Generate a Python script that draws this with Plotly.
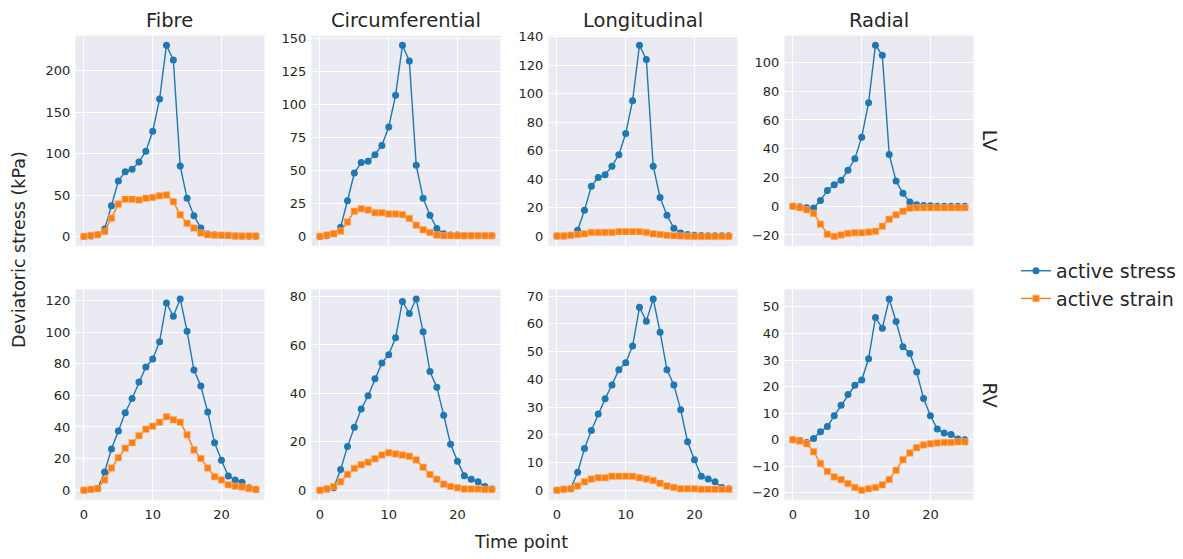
import plotly.graph_objects as go
from plotly.subplots import make_subplots

time = list(range(26))
directions = ["Fibre", "Circumferential", "Longitudinal", "Radial"]
chambers = ["LV", "RV"]

# LV active stress
lv_fibre_stress = [0, 0.5, 2, 9, 37, 67, 78, 81, 90, 103, 127, 166, 231, 213, 85, 46, 25, 10, 3, 2, 1.5, 1, 0.5, 0.3, 0.2, 0.1]
lv_circ_stress = [0, 0.5, 2, 7, 27, 48, 56, 57, 62, 69, 83, 107, 145, 133, 54, 29, 16, 6, 2, 1, 1, 0.5, 0.5, 0.5, 0.5, 0.5]
lv_long_stress = [0, 0, 0.5, 4, 18, 35, 41, 43, 49, 57, 72, 95, 134, 124, 49, 27, 14.5, 5.5, 2, 1, 0.5, 0.3, 0.2, 0.1, 0.1, 0.1]
lv_rad_stress = [0, -0.3, -1, -1.2, 4, 11, 15, 18, 25, 33, 48, 72, 112, 105, 36, 17.5, 9, 3, 1, 0.5, 0.3, 0, 0, 0, 0, 0]
# LV active strain
lv_fibre_strain = [0, 1, 2, 6, 22, 39, 45, 45, 44, 46, 47, 49, 50, 42, 26, 16, 10, 4, 2, 1.5, 1.5, 1, 0.5, 0.5, 0.5, 0.5]
lv_circ_strain = [0, 1, 2, 4, 11, 19, 21, 20, 18, 18, 17, 17, 16.5, 13.5, 8.5, 5, 3, 1, 0.5, 0.5, 0.5, 0.5, 0.5, 0.5, 0.5, 0.5]
lv_long_strain = [0, 0, 0.5, 1, 1.5, 2.5, 2.5, 2.5, 2.5, 3, 3, 3, 3, 2.5, 1.5, 1, 0.5, 0.2, 0, -0.2, -0.3, -0.3, -0.3, -0.3, -0.3, -0.3]
lv_rad_strain = [0, -1, -2.5, -5, -12.5, -19.5, -21, -20, -19, -18.5, -18.5, -18, -17.5, -14, -9, -6, -3.5, -1.5, -1, -1, -1, -1, -1, -1, -1, -1]
# RV active stress
rv_fibre_stress = [0, 0.5, 1, 11.5, 26, 37.5, 49, 58, 68.5, 78, 83, 94, 118.5, 110, 121, 100.5, 76, 66, 49.5, 30, 19, 9, 6.5, 5, 1.5, 0.5]
rv_circ_stress = [0, 0.5, 1, 8.5, 18, 26, 33.5, 39, 46, 52.5, 56, 63, 78, 73, 79, 65.5, 49, 42.5, 31, 19, 12, 6, 4.5, 3.5, 1.5, 0.5]
rv_long_stress = [0, 0.3, 0.5, 6.5, 15, 21.5, 27.5, 33, 38, 43.5, 46, 52, 66, 61, 69, 57, 43.5, 38, 29, 17.5, 11, 5, 4, 3, 1, 0.5]
rv_rad_stress = [0, -0.3, -1, 0.5, 3, 5, 9, 13, 17, 20.5, 22.5, 30.5, 46, 42, 53, 44.5, 35, 32.5, 25.5, 15.5, 9, 4, 2.5, 2, 0.3, 0]
# RV active strain
rv_fibre_strain = [0, 0.5, 1, 6.5, 14, 20.5, 26.5, 30, 34.5, 38.5, 40.5, 43, 46.5, 44.5, 43, 35, 25.5, 20, 14, 8.5, 6.5, 3.5, 2.5, 2, 1, 0.5]
rv_circ_strain = [0, 0.5, 1.5, 3.5, 6.5, 9, 10.5, 11.5, 13, 14.5, 15.5, 15, 14.5, 14, 12.5, 9.5, 6.5, 4.5, 2.5, 1.5, 1, 0.5, 0.5, 0.5, 0.3, 0.3]
rv_long_strain = [0, 0.3, 0.5, 1.5, 3, 4, 4.5, 4.5, 5, 5, 5, 5, 4.5, 4, 3.5, 2.5, 1.5, 1, 0.5, 0.5, 0.5, 0.3, 0.3, 0.3, 0.3, 0.3]
rv_rad_strain = [0, -0.5, -1.5, -4.5, -9, -12, -14, -15, -16.5, -18, -19, -18.5, -18, -17, -15, -11.5, -7.5, -5, -3, -2, -1.5, -1.2, -1, -1, -0.8, -0.8]

ytick_steps = [[50, 25, 20, 20], [20, 20, 10, 10]]

stress = [[lv_fibre_stress, lv_circ_stress, lv_long_stress, lv_rad_stress],
          [rv_fibre_stress, rv_circ_stress, rv_long_stress, rv_rad_stress]]
strain = [[lv_fibre_strain, lv_circ_strain, lv_long_strain, lv_rad_strain],
          [rv_fibre_strain, rv_circ_strain, rv_long_strain, rv_rad_strain]]

BLUE = "#1f77b4"
ORANGE = "#ff7f0e"
TXT = "#262626"
FONT = "DejaVu Sans"
W, H = 1183, 559

fig = make_subplots(rows=2, cols=4)

col_left = [75.4, 311.4, 548.4, 784.4]
col_w = 189
row_top = [30, 287]
row_h = 213

for r in range(2):
    for c in range(4):
        first = (r == 0 and c == 0)
        fig.add_trace(go.Scatter(x=time, y=stress[r][c], mode="lines+markers", name="active stress",
                                 line=dict(color=BLUE, width=1.4),
                                 marker=dict(symbol="circle", size=7, color=BLUE),
                                 showlegend=first, legendgroup="a"), row=r + 1, col=c + 1)
        fig.add_trace(go.Scatter(x=time, y=strain[r][c], mode="lines+markers", name="active strain",
                                 line=dict(color=ORANGE, width=1.4),
                                 marker=dict(symbol="square", size=6.5, color=ORANGE,
                                             line=dict(color="#ffb27a", width=0.6)),
                                 showlegend=first, legendgroup="b"), row=r + 1, col=c + 1)
        vals = stress[r][c] + strain[r][c]
        lo, hi = min(vals), max(vals)
        pad = 0.05 * (hi - lo)
        x0 = col_left[c] / W
        x1 = (col_left[c] + col_w) / W
        y1 = 1 - row_top[r] / H
        y0 = 1 - (row_top[r] + row_h) / H
        fig.update_xaxes(domain=[x0, x1], range=[-1.25, 26.25], tick0=0, dtick=10,
                         showticklabels=(r == 1), showgrid=True, gridcolor="white", gridwidth=1,
                         zeroline=False, showline=False, ticks="", ticklabelstandoff=5,
                         tickfont=dict(family=FONT, size=13, color=TXT), row=r + 1, col=c + 1)
        fig.update_yaxes(domain=[y0, y1], range=[lo - pad, hi + pad], tick0=0, dtick=ytick_steps[r][c],
                         showgrid=True, gridcolor="white", gridwidth=1,
                         zeroline=False, showline=False, ticks="", ticklabelstandoff=4,
                         tickfont=dict(family=FONT, size=13, color=TXT), row=r + 1, col=c + 1)

annotations = []
for c, name in enumerate(directions):
    annotations.append(dict(text=name, x=(col_left[c] + col_w / 2) / W, y=1 - 15 / H,
                            xref="paper", yref="paper", showarrow=False,
                            font=dict(family=FONT, size=19.5, color=TXT), xanchor="center", yanchor="middle"))
for r, name in enumerate(chambers):
    annotations.append(dict(text=name, x=990 / W, y=1 - (row_top[r] + row_h / 2) / H,
                            xref="paper", yref="paper", showarrow=False, textangle=90,
                            font=dict(family=FONT, size=19, color=TXT), xanchor="center", yanchor="middle"))
annotations.append(dict(text="Deviatoric stress (kPa)", x=19 / W, y=1 - 247 / H, xref="paper", yref="paper",
                        showarrow=False, textangle=-90, font=dict(family=FONT, size=17.5, color=TXT),
                        xanchor="center", yanchor="middle"))
annotations.append(dict(text="Time point", x=521 / W, y=1 - 543 / H, xref="paper", yref="paper",
                        showarrow=False, font=dict(family=FONT, size=17.5, color=TXT),
                        xanchor="center", yanchor="middle"))

fig.update_layout(width=W, height=H, margin=dict(l=0, r=0, t=0, b=0),
                  paper_bgcolor="white", plot_bgcolor="#EAEAF2",
                  font=dict(family=FONT, color=TXT),
                  annotations=annotations,
                  legend=dict(x=1016 / W, y=1 - 249 / H, xanchor="left", yanchor="top",
                              font=dict(family=FONT, size=19, color=TXT), bgcolor="rgba(0,0,0,0)",
                              tracegroupgap=0))

fig.write_html("out.html")
